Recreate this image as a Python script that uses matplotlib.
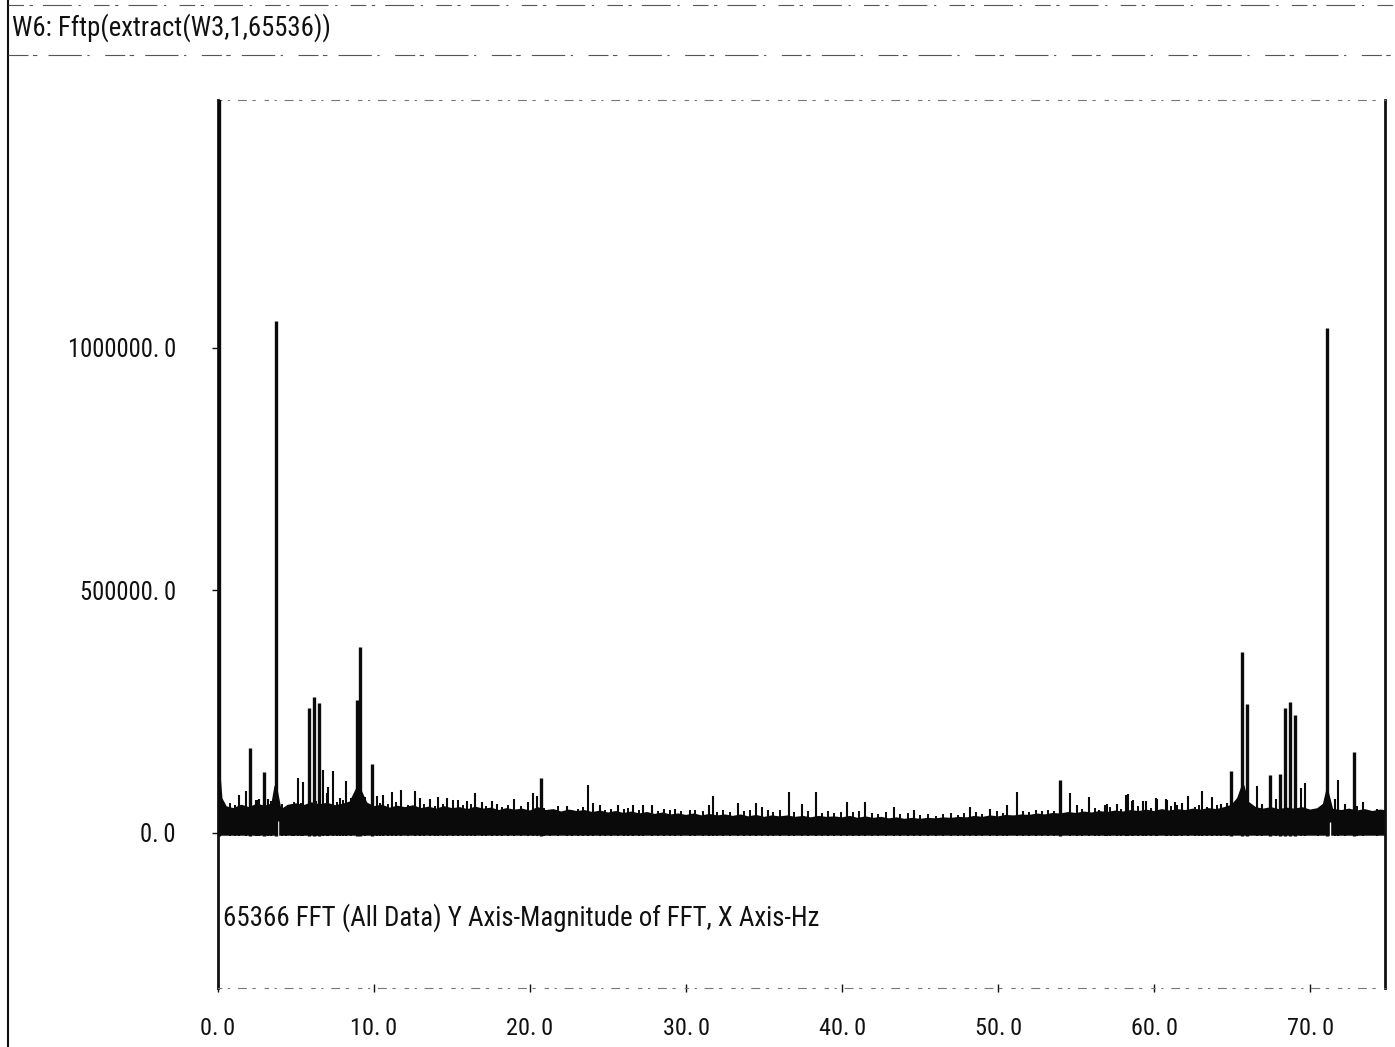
import matplotlib
matplotlib.use("Agg")
import matplotlib.pyplot as plt
from matplotlib import font_manager
from matplotlib.lines import Line2D

# Spectrum of W3 (65536 pts), magnitude vs Hz
# upper edge of the dense noise band
floor_hz = [0.0, 0.2, 0.5, 1.0, 1.5, 2.0, 2.5, 3.0, 3.5, 3.7, 4.0, 4.5, 5.0, 5.5, 6.0, 6.5, 7.0,
            7.5, 8.0, 8.5, 9.0, 9.5, 10.0, 10.5, 11.0, 11.5, 12.0, 12.5, 13.0, 13.5, 14.0, 14.5,
            15.0, 15.5, 16.0, 16.5, 17.0, 17.5, 18.0, 18.5, 19.0, 19.5, 20.0, 20.5, 21.0, 21.5,
            22.0, 22.5, 23.0, 23.5, 24.0, 24.5, 25.0, 25.5, 26.0, 26.5, 27.0, 27.5, 28.0, 28.5,
            29.0, 29.5, 30.0, 30.5, 31.0, 31.5, 32.0, 32.5, 33.0, 33.5, 34.0, 34.5, 35.0, 35.5,
            36.0, 36.5, 37.0, 37.5, 38.0, 38.5, 39.0, 39.5, 40.0, 40.5, 41.0, 41.5, 42.0, 42.5,
            43.0, 43.5, 44.0, 44.5, 45.0, 45.5, 46.0, 46.5, 47.0, 47.5, 48.0, 48.5, 49.0, 49.5,
            50.0, 50.5, 51.0, 51.5, 52.0, 52.5, 53.0, 53.5, 54.0, 54.5, 55.0, 55.5, 56.0, 56.5,
            57.0, 57.5, 58.0, 58.5, 59.0, 59.5, 60.0, 60.5, 61.0, 61.5, 62.0, 62.5, 63.0, 63.5,
            64.0, 64.5, 65.0, 65.4, 65.7, 66.0, 66.5, 67.0, 67.5, 68.0, 68.5, 69.0, 69.5, 70.0,
            70.5, 70.9, 71.1, 71.4, 72.0, 72.5, 73.0, 73.5, 74.0, 74.5, 74.8]
floor_top = [150e3, 70e3, 52e3, 48e3, 55e3, 50e3, 57e3, 53e3, 58e3, 95e3, 44e3, 55e3, 58e3, 54e3,
             60e3, 56e3, 59e3, 54e3, 57e3, 62e3, 95e3, 60e3, 52e3, 55e3, 49e3, 53e3, 50e3, 54e3,
             48e3, 51e3, 47e3, 52e3, 48e3, 50e3, 46e3, 51e3, 47e3, 49e3, 44e3, 48e3, 45e3, 47e3,
             43e3, 50e3, 44e3, 46e3, 41e3, 45e3, 42e3, 44e3, 40e3, 43e3, 39e3, 42e3, 38e3, 41e3,
             37e3, 40e3, 36e3, 39e3, 35e3, 37e3, 34e3, 37e3, 33e3, 36e3, 33e3, 35e3, 32e3, 35e3,
             31e3, 34e3, 30e3, 33e3, 31e3, 33e3, 30e3, 32e3, 29e3, 32e3, 30e3, 31e3, 29e3, 32e3,
             28e3, 31e3, 28e3, 30e3, 27e3, 29e3, 26e3, 28e3, 26e3, 28e3, 27e3, 29e3, 28e3, 30e3,
             29e3, 32e3, 30e3, 33e3, 31e3, 34e3, 33e3, 35e3, 34e3, 37e3, 35e3, 38e3, 37e3, 40e3,
             38e3, 41e3, 39e3, 42e3, 40e3, 43e3, 41e3, 44e3, 42e3, 45e3, 42e3, 46e3, 43e3, 46e3,
             44e3, 47e3, 45e3, 48e3, 46e3, 50e3, 55e3, 70e3, 97e3, 62e3, 50e3, 47e3, 50e3, 46e3,
             49e3, 47e3, 50e3, 45e3, 48e3, 58e3, 85e3, 47e3, 44e3, 47e3, 43e3, 46e3, 42e3, 45e3,
             44e3]

# short teeth on top of the band
teeth_hz = [0.8, 1.1, 3.4, 4.1, 4.9, 5.3, 6.3, 7.6, 8.0, 8.5, 9.4, 10.4, 10.9, 11.4, 12.2, 13.2,
            13.9, 14.4, 15.7, 16.2, 17.2, 18.2, 18.6, 19.4,
            20.9, 21.3, 21.8, 22.7, 23.1, 23.4, 24.8, 25.2, 26.0, 26.3, 27.0, 28.2, 28.6, 29.0,
            29.7, 30.6, 31.1, 32.0, 32.4, 32.8, 33.7, 34.1, 35.6, 36.0, 36.9, 37.8, 38.7, 39.1,
            39.5, 39.9, 40.7, 41.1, 41.9, 42.3, 42.8, 43.7, 44.2, 45.0, 45.5, 46.0, 46.5, 47.0,
            47.4, 47.8, 48.6, 49.0, 49.9, 50.3, 51.6, 52.0, 52.4, 52.8, 53.2, 53.6, 55.4, 56.2,
            56.5, 57.2, 57.9, 59.0, 59.8, 61.1, 62.6, 62.9, 63.4, 64.0]
teeth_mag = [62e3, 58e3, 66e3, 60e3, 64e3, 62e3, 66e3, 63e3, 68e3, 72e3, 74e3, 62e3, 60e3, 63e3,
             58e3, 60e3, 56e3, 60e3, 57e3, 59e3, 55e3, 54e3, 57e3, 55e3,
             52e3, 48e3, 55e3, 47e3, 50e3, 53e3, 46e3, 50e3, 49e3, 52e3, 47e3, 45e3, 49e3, 46e3,
             44e3, 47e3, 45e3, 43e3, 46e3, 42e3, 44e3, 47e3, 43e3, 46e3, 42e3, 45e3, 41e3, 44e3,
             40e3, 43e3, 42e3, 45e3, 41e3, 39e3, 43e3, 38e3, 40e3, 36e3, 39e3, 35e3, 38e3, 41e3,
             37e3, 40e3, 42e3, 39e3, 44e3, 41e3, 45e3, 42e3, 47e3, 44e3, 48e3, 45e3, 49e3, 52e3,
             48e3, 53e3, 50e3, 55e3, 52e3, 56e3, 53e3, 58e3, 54e3, 57e3]

# strong lines
peak_hz = [0.05, 2.05, 2.97, 3.70, 5.85, 6.13, 6.47, 8.89, 9.12, 9.89, 20.7, 54.0, 64.9,
           65.66, 65.94, 67.4, 68.08, 68.4, 68.7, 69.0, 71.1, 72.8]
peak_mag = [1.6e6, 175e3, 125e3, 1056e3, 258e3, 280e3, 268e3, 274e3, 384e3, 142e3, 113e3,
            108e3, 128e3, 372e3, 266e3, 120e3, 122e3, 258e3, 270e3, 243e3, 1041e3, 167e3]

# smaller lines sticking out of the floor
grass_hz = [1.37, 1.77, 2.44, 2.59, 2.65, 3.22, 4.36, 4.72, 5.10, 5.47, 6.73, 7.00, 7.07, 7.39,
            7.82, 8.20, 10.17, 10.6, 11.15, 11.75, 12.6, 12.95, 13.6, 14.1, 14.66, 15.07, 15.4,
            15.94, 16.5, 16.9, 17.54, 17.86, 19.0, 19.9, 20.2, 20.43, 22.35, 23.7, 24.06, 24.5,
            25.66, 26.6, 27.26, 27.8, 29.3, 30.26, 31.5, 31.75, 33.3, 34.5, 34.85, 35.28, 36.6,
            37.4, 38.3, 40.3, 41.5, 43.3, 44.6, 48.2, 49.5, 50.6, 51.2, 54.6, 55.04, 55.8, 56.86,
            56.97, 57.6, 58.2, 58.3, 58.6, 58.67, 59.3, 59.5, 60.1, 60.2, 60.75, 60.8, 61.35,
            61.45, 61.8, 62.2, 63.1, 63.7, 64.3, 64.66, 66.6, 66.9, 67.8, 69.4, 69.7, 70.5, 71.6,
            71.8, 72.24, 73.0, 73.4, 74.3]
grass_mag = [78e3, 87e3, 68e3, 68e3, 70e3, 70e3, 54e3, 56e3, 112e3, 105e3, 130e3, 82e3, 95e3,
             128e3, 72e3, 107e3, 75e3, 78e3, 85e3, 89e3, 87e3, 72e3, 70e3, 74e3, 72e3, 68e3,
             67e3, 65e3, 83e3, 64e3, 66e3, 60e3, 70e3, 64e3, 83e3, 75e3, 55e3, 99e3, 62e3, 58e3,
             57e3, 57e3, 57e3, 57e3, 50e3, 48e3, 57e3, 76e3, 62e3, 62e3, 54e3, 48e3, 85e3, 59e3,
             85e3, 63e3, 63e3, 54e3, 48e3, 54e3, 50e3, 58e3, 85e3, 82e3, 57e3, 74e3, 57e3, 60e3,
             60e3, 78e3, 79e3, 65e3, 68e3, 65e3, 65e3, 72e3, 70e3, 70e3, 68e3, 63e3, 57e3, 62e3,
             76e3, 86e3, 74e3, 59e3, 62e3, 96e3, 60e3, 70e3, 93e3, 103e3, 45e3, 70e3, 109e3,
             60e3, 55e3, 64e3, 50e3]

# thin gaps in the band just past the two big lines
gap_hz = [3.84, 71.25]
gap_top = [24e3, 22e3]

x_ticks = [0, 10, 20, 30, 40, 50, 60, 70]
y_ticks = [0, 500000, 1000000]

title = "W6: Fftp(extract(W3,1,65536))"
note = "65366 FFT (All Data) Y Axis-Magnitude of FFT, X Axis-Hz"


def pick_font():
    """Prefer a narrow sans face if one is installed."""
    names = {f.name for f in font_manager.fontManager.ttflist}
    for name in ["Liberation Sans Narrow", "DejaVu Sans Condensed", "Roboto Condensed",
                 "Open Sans Condensed"]:
        if name in names:
            return name, "normal"
    for f in font_manager.fontManager.ttflist:
        if f.name == "DejaVu Sans" and "condensed" in str(f.stretch):
            return "DejaVu Sans", "condensed"
    return "Liberation Sans", "normal"


FONT, STRETCH = pick_font()
plt.rcParams["font.family"] = [FONT, "DejaVu Sans"]
plt.rcParams["font.stretch"] = STRETCH

W, H = 1395, 1047
INK = "#111111"
BAND = "#0a0a0a"
fig = plt.figure(figsize=(W / 100, H / 100), dpi=100)
fig.patch.set_facecolor("white")

left, right, top, bottom = 218, 1385, 100, 988
ax = fig.add_axes([left / W, 1 - bottom / H, (right - left) / W, (bottom - top) / H])
ax.set_xlim(0, 74.8)
ax.set_ylim(-320000, 1511000)

base = -6000
ax.fill_between(floor_hz, base, floor_top, facecolor=BAND, linewidth=0, zorder=2)
ax.plot(floor_hz, floor_top, color=BAND, lw=2.0, zorder=3)
ax.vlines(teeth_hz, base, teeth_mag, color=BAND, lw=1.4, zorder=3)
ax.vlines(grass_hz, base, grass_mag, color=BAND, lw=1.5, zorder=3)
ax.vlines(gap_hz, base, gap_top, color="white", lw=1.0, zorder=3.5)
ax.vlines(peak_hz, base, peak_mag, color=BAND, lw=2.4, zorder=4)

for side in ("left", "right"):
    ax.spines[side].set_linewidth(2.0)
    ax.spines[side].set_color(INK)
for side in ("top", "bottom"):
    ax.spines[side].set_linewidth(0.8)
    ax.spines[side].set_color("#777777")
    ax.spines[side].set_linestyle((0, (3, 6, 1, 8, 7, 6, 2, 9)))

sep = "\u2009"
ax.set_xticks(x_ticks)
ax.set_xticklabels([f"{v:.1f}".replace(".", "." + sep) for v in x_ticks])
ax.set_yticks(y_ticks)
ax.set_yticklabels([f"{v:.1f}".replace(".", "." + sep) for v in y_ticks])
ax.tick_params(axis="x", direction="inout", length=6, width=1, pad=18, labelsize=20, colors=INK)
ax.tick_params(axis="y", direction="out", length=4, width=1, pad=30, labelsize=19, colors=INK)

note_txt = ax.text(0.35, -175000, note, fontsize=18, color=INK, va="center", ha="left")

# page frame around the window
fig.add_artist(Line2D([8 / W, 8 / W], [0, 1], color=INK, lw=1.5))
fig.add_artist(Line2D([8 / W, 1], [1 - 5 / H, 1 - 5 / H], color="#555555", lw=0.8,
                      ls=(0, (14, 5, 3, 9, 26, 6, 2, 12))))
fig.add_artist(Line2D([8 / W, 1], [1 - 55 / H, 1 - 55 / H], color="#555555", lw=0.8,
                      ls=(0, (18, 4, 4, 10, 30, 5, 2, 14))))
title_txt = fig.text(12 / W, 1 - 28 / H, title, fontsize=17, color=INK, va="center", ha="left")


def fit_width(text, target_px, renderer):
    w = text.get_window_extent(renderer).width
    text.set_fontsize(text.get_fontsize() * target_px / w)


# size the texts so their widths follow the printed layout
fig.canvas.draw()
r = fig.canvas.get_renderer()
fit_width(title_txt, 318, r)
fit_width(note_txt, 598, r)
ylab = ax.get_yticklabels()[2]
xlab = ax.get_xticklabels()[1]
ysize = 19 * 108 / ylab.get_window_extent(r).width
xsize = 20 * 47 / xlab.get_window_extent(r).width
ax.tick_params(axis="y", labelsize=ysize)
ax.tick_params(axis="x", labelsize=xsize)
fig.canvas.draw()
# keep the right edge of the y labels at the printed position
edge = ax.get_yticklabels()[2].get_window_extent(r).x1
ax.tick_params(axis="y", pad=30 + (edge - 176) * 0.72)

fig.savefig("out.png", dpi=100)
